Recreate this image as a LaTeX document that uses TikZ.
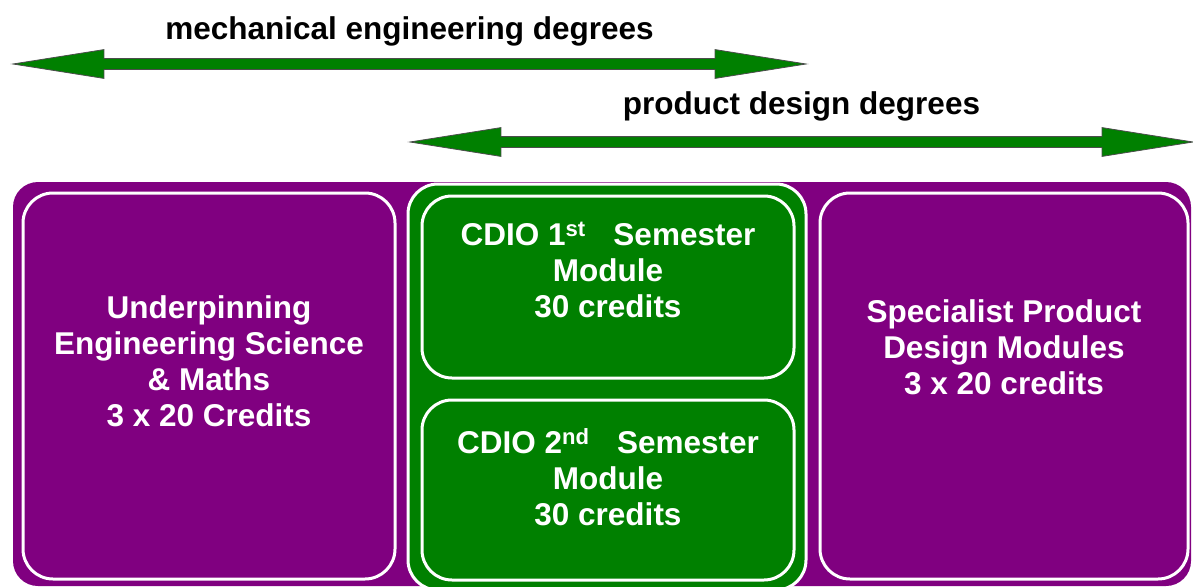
\documentclass[tikz,border=0pt]{standalone}
\usepackage{fontspec}
\setsansfont{Liberation Sans}
\usetikzlibrary{positioning, shapes.arrows}

\definecolor{modpurple}{HTML}{800080}
\definecolor{modgreen}{HTML}{008000}

\begin{document}
\begin{tikzpicture}[
    x=1pt, y=-1pt,
    degarrow/.style={double arrow, draw=black!70, line width=0.8pt, fill=modgreen,
                     double arrow head extend=9pt, double arrow tip angle=18,
                     text height=5pt, text depth=5pt, inner sep=0pt},
    deglabel/.style={font=\sffamily\bfseries\fontsize{31.5}{36}\selectfont,
                     inner sep=0pt},
    backdrop/.style={rectangle, fill=modpurple, rounded corners=25pt},
    module/.style={rectangle, draw=white, line width=3pt, rounded corners=30pt,
                   inner sep=0pt},
    sciencebox/.style={module, fill=modpurple},
    cdiobox/.style={module, fill=modgreen},
    modtext/.style={font=\sffamily\bfseries\fontsize{31.5}{36}\selectfont,
                    text=white, align=center, inner sep=0pt}
]
  \clip (0,0) rectangle (1193,586);

  % Degree arrows
  \node[degarrow, minimum height=793pt] (mecharrow) at (409.5,64) {};
  \node[deglabel, above=12pt of mecharrow] (mechlabel) {mechanical engineering degrees};
  \node[degarrow, minimum height=783pt] (prodarrow) at (801.5,142) {};
  \node[deglabel, above=15pt of prodarrow] (prodlabel) {product design degrees};

  % Module backdrop
  \node[backdrop, minimum width=1178pt, minimum height=404pt] (course) at (602,384) {};

  % Left and right modules
  \node[sciencebox, minimum width=372pt, minimum height=386pt] (science) at (209,386) {};
  \node[sciencebox, minimum width=368pt, minimum height=386pt] (special) at (1004,386) {};

  % CDIO block
  \node[cdiobox, minimum width=398pt, minimum height=406pt] (cdio) at (607,387) {};
  \node[cdiobox, minimum width=372pt, minimum height=182pt] (cdioone) at (608,287) {};
  \node[cdiobox, minimum width=372pt, minimum height=180pt] (cdiotwo) at (608,490) {};

  % Module texts
  \node[modtext] (sciencetext) at ([yshift=25pt]science.center)
    {Underpinning\\Engineering Science\\\& Maths\\3 x 20 Credits};
  \node[modtext] (cdioonetext) at ([yshift=17pt]cdioone.center)
    {CDIO 1\textsuperscript{st}\hspace{0.6em} Semester\\Module\\30 credits};
  \node[modtext] (cdiotwotext) at ([yshift=13pt]cdiotwo.center)
    {CDIO 2\textsuperscript{nd}\hspace{0.6em} Semester\\Module\\30 credits};
  \node[modtext] (specialtext) at ([yshift=39pt]special.center)
    {Specialist Product\\Design Modules\\3 x 20 credits};
\end{tikzpicture}
\end{document}
